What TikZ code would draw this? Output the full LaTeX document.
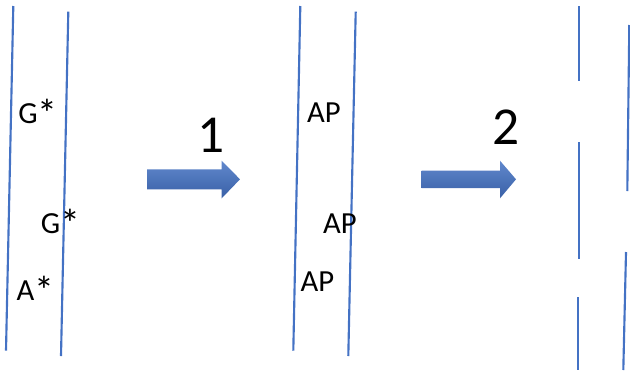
\documentclass[tikz,border=0pt]{standalone}
\usepackage{fontspec}
\setmainfont{Carlito}
\usepackage{graphicx}
\usepackage{xcolor}
\definecolor{strandblue}{HTML}{4472C4}
\newcommand{\bigast}{\raisebox{-0.25ex}{\scalebox{1.3}{*}}}

\begin{document}
\begin{tikzpicture}[
        x=0.75pt, y=-0.75pt,
        strand/.style={draw=strandblue, line width=1.6pt},
        base/.style={inner sep=0pt, font=\fontsize{23}{26}\selectfont},
        steplabel/.style={inner sep=0pt, font=\fontsize{40}{44}\selectfont},
        blockarrow/.style={top color=strandblue!85!white, bottom color=strandblue!85!black, draw=none}
        ]
        \useasboundingbox (0,0) rectangle (630,372);

        % Strands
        \draw[strand] (13.3,6) -- (6,350.7);
        \draw[strand] (68.3,11.7) -- (61,356);
        \draw[strand] (300.3,6) -- (293.3,350.7);
        \draw[strand] (355.7,11.7) -- (348.3,356);
        % broken strands
        \draw[strand] (579.3,6) -- (579.3,81);
        \draw[strand] (579.3,142) -- (579.3,259);
        \draw[strand] (577.7,297) -- (577.7,370);
        \draw[strand] (629.3,25) -- (627.3,191);
        \draw[strand] (626,252) -- (623.3,370);

        % Nodes
        \node[base] (g1) at (38,113) {G\bigast};
        \node[base] (g2) at (60.5,223) {G\bigast};
        \node[base] (a1) at (35.5,290) {A\bigast};
        \node[base] (ap1) at (324,113) {AP};
        \node[base] (ap2) at (340,223.5) {AP};
        \node[base] (ap3) at (317.5,281.5) {AP};

        % Arrows
        \shade[blockarrow] (147,169.3) -- (221.7,169.3) -- (221.7,160.7) -- (240,179.3)
            -- (221.7,198.3) -- (221.7,189.3) -- (147,189.3) -- cycle;
        \shade[blockarrow] (421.7,170.7) -- (500,170.7) -- (500,160.7) -- (516,179.3)
            -- (500,198.3) -- (500,188) -- (421.7,188) -- cycle;
        \node[steplabel] (one) at (211,135) {1};
        \node[steplabel] (two) at (505.7,127.5) {2};

        \end{tikzpicture}
\end{document}
